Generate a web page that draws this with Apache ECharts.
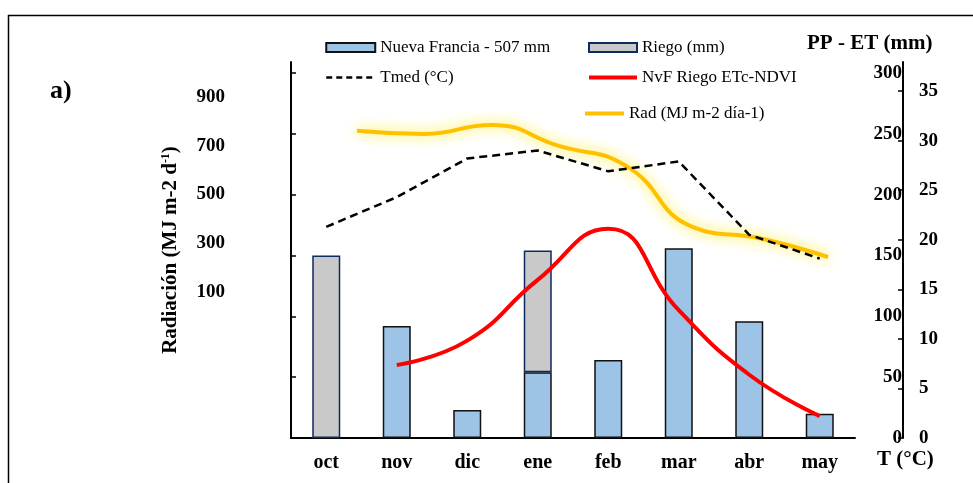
<!DOCTYPE html>
<html>
<head>
<meta charset="utf-8">
<script src="https://cdn.jsdelivr.net/npm/echarts@6/dist/echarts.min.js"></script>
<style>html,body{margin:0;padding:0;background:#fff}#c{width:973px;height:483px}</style>
</head>
<body>
<div id="c"></div>
<script>
// ---- data ----
const months = ['oct','nov','dic','ene','feb','mar','abr','may'];
const ppNuevaFrancia = [0, 92, 23, 54, 64, 156, 96, 20];      // mm
const riego = [150, null, null, 100, null, null, null, null];   // mm
const tmed = [21.3, 24.3, 28.2, 29.0, 26.9, 27.9, 20.5, 18.1];  // °C
const nvfRiegoEtc = [null, 60, 80, 130, 172, 105, 52, 18];      // mm
const radIndex = [0, 1, 2, 3, 4, 5, 6, 7];
const rad = [761, 748, 785, 699, 617, 365, 319, 243];           // MJ m-2
const ppTicks = [0, 50, 100, 150, 200, 250, 300];
const tTicks = [0, 5, 10, 15, 20, 25, 30, 35];
const radTicks = [100, 300, 500, 700, 900];

const SERIF = '"Liberation Serif", "Times New Roman", serif';
const chart = echarts.init(document.getElementById('c'), null, {renderer: 'canvas'});

const boldLbl = {fontFamily: SERIF, fontWeight: 'bold', fontSize: 19, color: '#000'};
const noSym = {color: 'rgba(0,0,0,0)', borderWidth: 0, opacity: 0};
const legText = {fontFamily: SERIF, fontSize: 17, color: '#000'};
const legLine = {shadowBlur: 0, shadowColor: 'rgba(0,0,0,0)'};

chart.setOption({
  animation: false,
  backgroundColor: '#fff',
  grid: {left: 291, right: 118, top: 62, bottom: 45, containLabel: false},
  legend: [
    {data: [{name: 'Nueva Francia - 507 mm', icon: 'rect'},
            {name: 'Tmed (°C)', itemStyle: noSym, lineStyle: {width: 2.5, type: [6, 4], color: '#000', shadowBlur: 0}}],
     orient: 'vertical', left: 325, top: 39, padding: 0,
     itemWidth: 49, itemHeight: 9, itemGap: 13, selectedMode: false,
     textStyle: legText, lineStyle: legLine},
    {data: [{name: 'Riego (mm)', icon: 'rect'},
            {name: 'NvF Riego ETc-NDVI', itemStyle: noSym, lineStyle: {width: 4, color: '#FF0000', shadowBlur: 0}}],
     orient: 'vertical', left: 587, top: 39, padding: 0,
     itemWidth: 48, itemHeight: 9, itemGap: 13, selectedMode: false,
     textStyle: legText, lineStyle: legLine},
    {data: [{name: 'Rad (MJ m-2 día-1)', itemStyle: noSym, lineStyle: {width: 4, color: '#FFC000', shadowBlur: 0, shadowColor: 'rgba(0,0,0,0)'}}],
     orient: 'vertical', left: 583, top: 105, padding: 0,
     itemWidth: 39, itemHeight: 9, selectedMode: false,
     textStyle: legText, lineStyle: legLine}
  ],
  xAxis: [
    {type: 'category', data: months, boundaryGap: true,
     axisLine: {onZero: false, lineStyle: {color: '#000', width: 2}},
     axisTick: {inside: true, length: 5, alignWithLabel: false, lineStyle: {color: '#000', width: 1.5}},
     axisLabel: Object.assign({}, boldLbl, {margin: 15, fontSize: 20}),
     splitLine: {show: false}},
    {type: 'value', min: -0.981, max: 7.401, show: false}
  ],
  yAxis: [
    // 0: PP-ET left (ticks only)
    {type: 'value', position: 'left', min: 0, max: 309,
     axisLine: {show: true, onZero: false, lineStyle: {color: '#000', width: 2}},
     axisTick: {show: true, inside: true, length: 5, customValues: ppTicks, lineStyle: {color: '#000', width: 1.5}},
     axisLabel: {show: false}, splitLine: {show: false}},
    // 1: Radiación labels
    {type: 'value', position: 'left', min: -500, max: 1043.5,
     axisLine: {show: false, onZero: false}, axisTick: {show: false}, splitLine: {show: false},
     axisLabel: Object.assign({margin: 66, customValues: radTicks}, boldLbl),
     name: 'Radiación (MJ m-2 d{sup|-1})', nameLocation: 'middle', nameRotate: 90, nameGap: 110,
     nameTextStyle: {fontFamily: SERIF, fontWeight: 'bold', fontSize: 21, color: '#000',
       rich: {sup: {fontFamily: SERIF, fontWeight: 'bold', fontSize: 12, color: '#000', padding: [0, 0, 9, 0]}}}},
    // 2: T axis right
    {type: 'value', position: 'right', offset: 48, min: 0, max: 37.93,
     axisLine: {show: true, onZero: false, lineStyle: {color: '#000', width: 2}},
     axisTick: {show: true, inside: true, length: 5, customValues: tTicks, lineStyle: {color: '#000', width: 1.5}},
     axisLabel: Object.assign({margin: 16, customValues: tTicks}, boldLbl),
     splitLine: {show: false}},
    // 3: PP-ET labels right (inside)
    {type: 'value', position: 'right', offset: 48, min: 0, max: 309,
     axisLine: {show: false, onZero: false}, axisTick: {show: false}, splitLine: {show: false},
     axisLabel: Object.assign({inside: true, margin: 1, customValues: ppTicks}, boldLbl)}
  ],
  series: [
    {name: 'Nueva Francia - 507 mm', type: 'bar', stack: 'pp', xAxisIndex: 0, yAxisIndex: 0,
     barWidth: 28, data: ppNuevaFrancia, z: 2,
     itemStyle: {color: '#9DC3E6', borderColor: '#111', borderWidth: 1.5}},
    {name: 'Riego (mm)', type: 'bar', stack: 'pp', xAxisIndex: 0, yAxisIndex: 0,
     barWidth: 28, data: riego, z: 2,
     itemStyle: {color: '#C9C9C9', borderColor: '#0E2A5E', borderWidth: 1.5}},
    {name: 'Rad (MJ m-2 día-1)', type: 'line', xAxisIndex: 1, yAxisIndex: 1, smooth: true,
     symbol: 'none', z: 3,
     data: radIndex.map((v, i) => [v, rad[i]]),
     lineStyle: {color: '#FFC000', width: 4, shadowColor: 'rgba(255,232,0,1)', shadowBlur: 13},
     itemStyle: {color: '#FFC000'}},
    {name: 'Tmed (°C)', type: 'line', xAxisIndex: 0, yAxisIndex: 2, smooth: false,
     symbol: 'none', z: 4, data: tmed,
     lineStyle: {color: '#000', width: 2.5, type: [8, 5]},
     itemStyle: {color: '#000'}},
    {name: 'NvF Riego ETc-NDVI', type: 'line', xAxisIndex: 0, yAxisIndex: 0, smooth: true,
     symbol: 'none', z: 5, data: nvfRiegoEtc,
     lineStyle: {color: '#FF0000', width: 4},
     itemStyle: {color: '#FF0000'}}
  ],
  graphic: [
    {type: 'rect', left: 6, top: 13, silent: true, z: -1,
     shape: {x: 0, y: 0, width: 1100, height: 600},
     style: {fill: 'none', stroke: '#000', lineWidth: 1.5}},
    {type: 'text', left: 50, top: 78,
     style: {text: 'a)', font: 'bold 26px ' + SERIF, fill: '#000'}},
    {type: 'text', left: 807, top: 33,
     style: {text: 'PP - ET (mm)', font: 'bold 21px ' + SERIF, fill: '#000'}},
    {type: 'text', left: 877, top: 449,
     style: {text: 'T (°C)', font: 'bold 21px ' + SERIF, fill: '#000'}}
  ]
});
</script>
</body>
</html>
